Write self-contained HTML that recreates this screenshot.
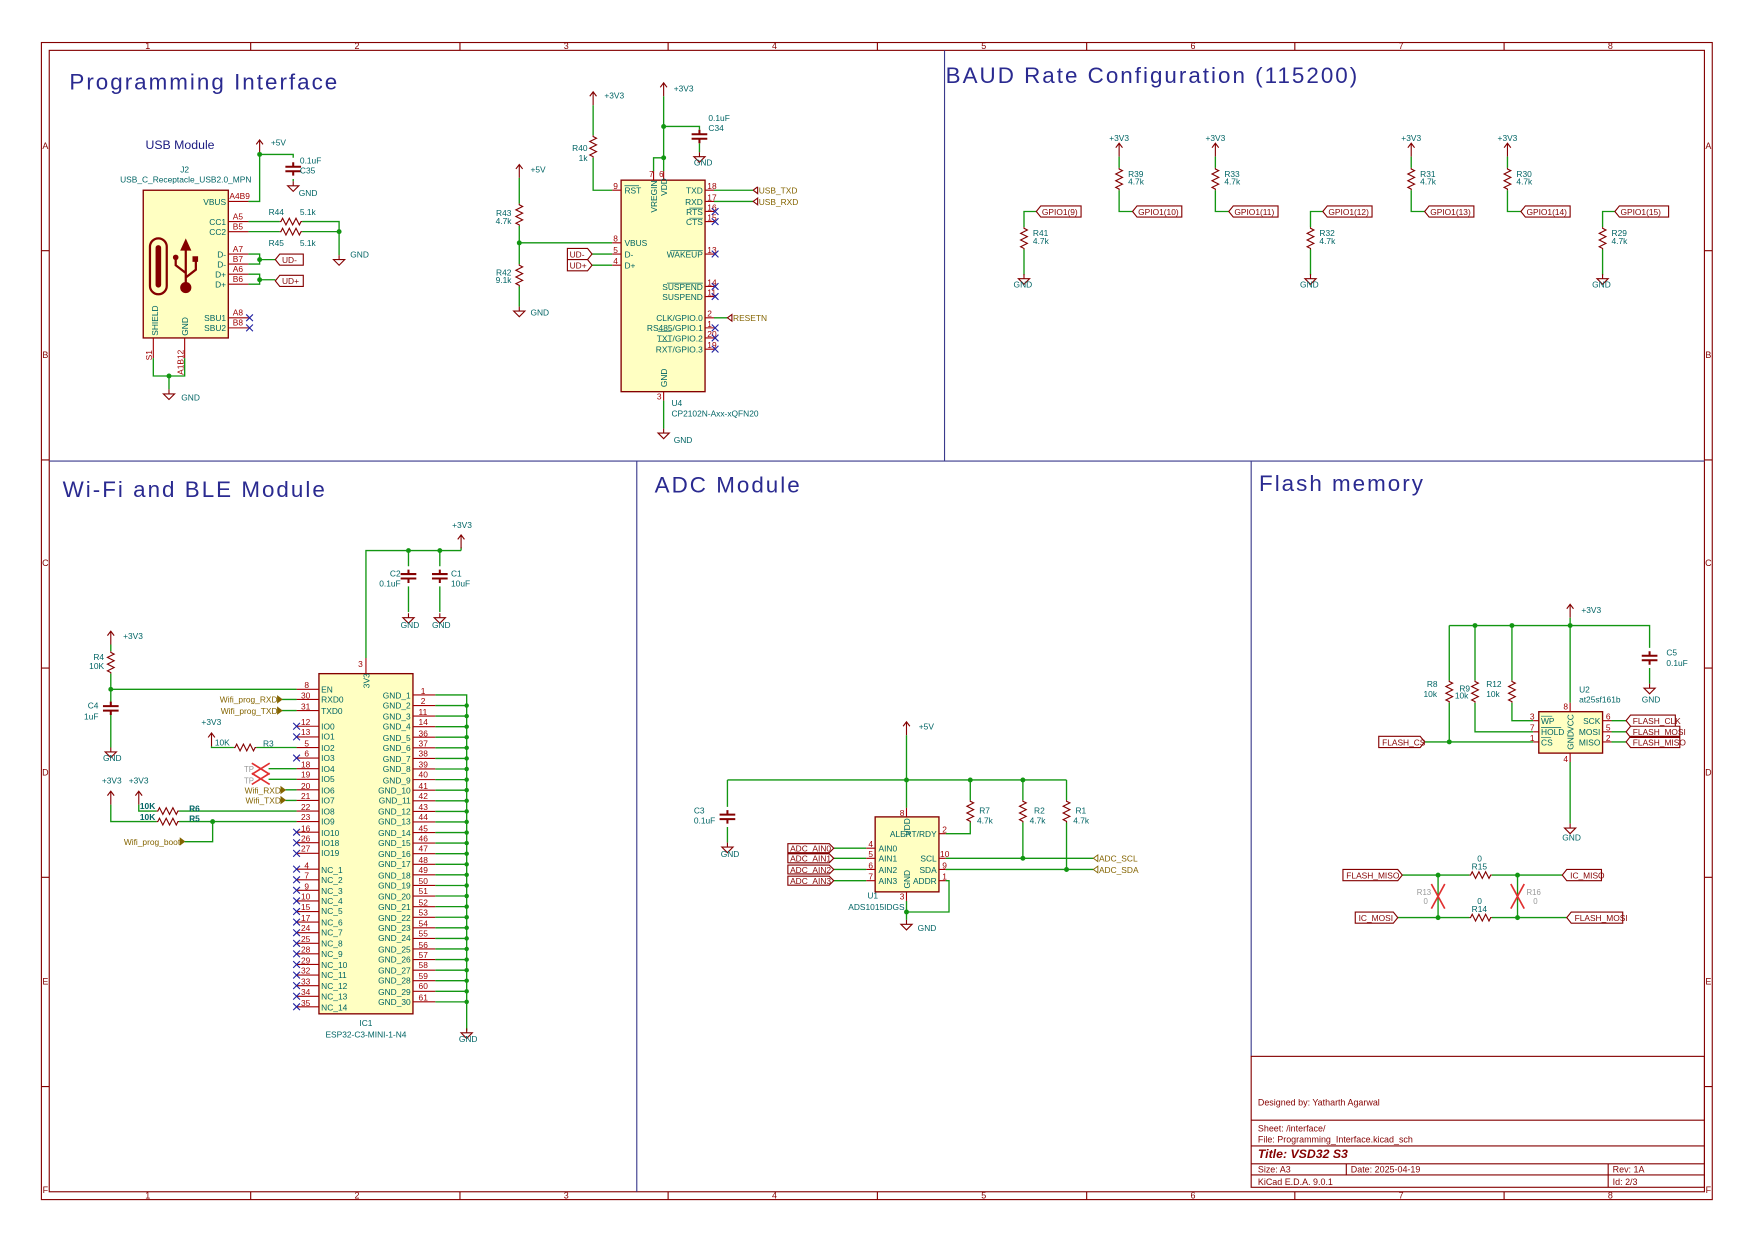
<!DOCTYPE html>
<html><head><meta charset="utf-8"><style>
html,body{margin:0;padding:0;background:#fff;width:1754px;height:1241px;overflow:hidden}
svg{display:block}
.w{stroke:#129612;stroke-width:1.2;fill:none}
.p{stroke:#a00000;stroke-width:1;fill:none}
.r{stroke:#840000;stroke-width:1;fill:none}
.b{fill:#ffffc2;stroke:#840000;stroke-width:1.2}
.bd{stroke:#840000;stroke-width:1;fill:none}
.dv{stroke:#3a3a8c;stroke-width:1;fill:none}
text{font-family:"Liberation Sans",sans-serif}
.t{fill:#006464;font-size:7.5px}
.n{fill:#a00000;font-size:7.5px}
.l{fill:#840000;font-size:7.5px}
.h{fill:#846400;font-size:7.5px}
.hd{fill:#2a2a90;font-size:20px;letter-spacing:1.8px}
.bt{fill:#840000;font-size:8px}
.x{stroke:#2020a0;stroke-width:1}
</style></head><body>
<svg width="1754" height="1241" viewBox="0 0 1567.3 1109" preserveAspectRatio="none" xmlns="http://www.w3.org/2000/svg">
<defs>
<path id="rv" d="M0,-10 v1 l3,1.5 l-6,3 l6,3 l-6,3 l6,3 l-6,3 l3,1.5 v1" class="r"/>
<path id="rh" d="M-10,0 h1 l1.5,-3 l3,6 l3,-6 l3,6 l3,-6 l3,6 l1.5,-3 h1" class="r"/>
<path id="gnd" d="M0,0 v4 M-5,4 h10 l-5,5 z" class="r"/>
<path id="pw" d="M0,12 v-12 M-3,4 l3,-4 l3,4" class="r"/>
<path id="cv" d="M0,-6 v4 M-7,-2 h14 M-7,2 h14 M0,2 v4" style="stroke:#840000;stroke-width:1.8;fill:none"/>
<circle id="j" r="2.2" fill="#129612"/>
<path id="nc" d="M-3,-3 l6,6 M-3,3 l6,-6" class="x"/>
</defs>

<!-- border -->
<rect x="37" y="38" width="1493" height="1034" class="bd"/>
<rect x="44" y="45" width="1479" height="1020" class="bd"/>
<g class="bd">
<path d="M224,38v7M411,38v7M597,38v7M784,38v7M971,38v7M1157,38v7M1344,38v7"/>
<path d="M224,1065v7M411,1065v7M597,1065v7M784,1065v7M971,1065v7M1157,1065v7M1344,1065v7"/>
<path d="M37,224h7M37,411h7M37,597h7M37,784h7M37,971h7M1523,224h7M1523,411h7M1523,597h7M1523,784h7M1523,971h7"/>
</g>
<g class="bt" font-size="7" text-anchor="middle">
<text x="132" y="44">1</text><text x="319" y="44">2</text><text x="506" y="44">3</text><text x="692" y="44">4</text><text x="879" y="44">5</text><text x="1066" y="44">6</text><text x="1252" y="44">7</text><text x="1439" y="44">8</text>
<text x="132" y="1071">1</text><text x="319" y="1071">2</text><text x="506" y="1071">3</text><text x="692" y="1071">4</text><text x="879" y="1071">5</text><text x="1066" y="1071">6</text><text x="1252" y="1071">7</text><text x="1439" y="1071">8</text>
<text x="40.5" y="133">A</text><text x="40.5" y="320">B</text><text x="40.5" y="506">C</text><text x="40.5" y="693">D</text><text x="40.5" y="880">E</text><text x="40.5" y="1066">F</text>
<text x="1526.5" y="133">A</text><text x="1526.5" y="320">B</text><text x="1526.5" y="506">C</text><text x="1526.5" y="693">D</text><text x="1526.5" y="880">E</text><text x="1526.5" y="1066">F</text>
</g>

<!-- dividers -->
<path class="dv" d="M44,412H1523M844,45V412M569,412V1065M1118,412V944"/>

<!-- title block -->
<g class="bd">
<rect x="1118" y="944" width="405" height="117"/>
<path d="M1118,1001H1523M1118,1024H1523M1118,1040H1523M1118,1050H1523M1203,1040V1050M1437,1040V1061"/>
</g>
<g class="bt">
<text x="1124" y="988">Designed by: Yatharth Agarwal</text>
<text x="1124" y="1011">Sheet: /interface/</text>
<text x="1124" y="1021">File: Programming_Interface.kicad_sch</text>
<text x="1124" y="1035" font-size="11" font-weight="bold" font-style="italic">Title: VSD32 S3</text>
<text x="1124" y="1048">Size: A3</text><text x="1207" y="1048">Date: 2025-04-19</text><text x="1441" y="1048">Rev: 1A</text>
<text x="1124" y="1059">KiCad E.D.A. 9.0.1</text><text x="1441" y="1059">Id: 2/3</text>
</g>

<!-- headings -->
<text class="hd" x="62" y="80">Programming Interface</text>
<text class="hd" x="845" y="74">BAUD Rate Configuration (115200)</text>
<text class="hd" x="56" y="444">Wi-Fi and BLE Module</text>
<text class="hd" x="585" y="440">ADC Module</text>
<text class="hd" x="1125" y="439">Flash memory</text>

<!-- ================= USB ================= -->
<text x="130" y="133" fill="#1a1a80" font-size="11">USB Module</text>
<text class="t" x="165" y="154" text-anchor="middle">J2</text>
<text class="t" x="166" y="163" text-anchor="middle">USB_C_Receptacle_USB2.0_MPN</text>
<rect class="b" x="128" y="170" width="76" height="132"/>
<rect x="134" y="213" width="15" height="50" rx="7.5" fill="none" stroke="#840000" stroke-width="2"/>
<rect x="139" y="219" width="5" height="38" rx="2.5" fill="#840000"/>
<path d="M166,222v32M166,244l-9,-7v-6M166,248l9,-7v-8" stroke="#840000" stroke-width="2" fill="none"/>
<path d="M161,224l5,-11l5,11z" fill="#840000"/><circle cx="166" cy="257" r="5" fill="#840000"/><circle cx="157" cy="230" r="2.5" fill="#840000"/><rect x="172" y="229" width="5" height="5" fill="#840000"/>
<g class="p"><path d="M204,180h18M204,198h18M204,207h18M204,227h18M204,236h18M204,245h18M204,254h18M204,284h18M204,293h18M137,302v18M165,302v18"/></g>
<g class="t" text-anchor="end">
<text x="202" y="183">VBUS</text><text x="202" y="201">CC1</text><text x="202" y="210">CC2</text><text x="202" y="230">D-</text><text x="202" y="239">D-</text><text x="202" y="248">D+</text><text x="202" y="257">D+</text><text x="202" y="287">SBU1</text><text x="202" y="296">SBU2</text>
</g>
<text class="t" transform="translate(141,300) rotate(-90)">SHIELD</text>
<text class="t" transform="translate(168,300) rotate(-90)">GND</text>
<g class="n"><text x="205" y="178">A4B9</text><text x="208" y="196">A5</text><text x="208" y="205">B5</text><text x="208" y="225">A7</text><text x="208" y="234">B7</text><text x="208" y="243">A6</text><text x="208" y="252">B6</text><text x="208" y="282">A8</text><text x="208" y="291">B8</text></g>
<text class="n" transform="translate(136,322) rotate(-90)">S1</text>
<text class="n" transform="translate(164,335) rotate(-90)">A1B12</text>
<use href="#nc" x="223" y="284"/><use href="#nc" x="223" y="293"/>
<path class="w" d="M222,180h10v-42M232,138h30v3M262,160v2M222,198h28M270,198h33v30M222,207h28M270,207h33M222,227h10v9h-10M232,232h14M222,245h10v9h-10M232,250h14M137,320v16h28v-16M151,336v12"/>
<use href="#pw" x="232" y="125"/><text class="t" x="242" y="130">+5V</text>
<use href="#j" x="232" y="138"/>
<use href="#cv" x="262" y="151"/><use href="#gnd" x="262" y="162"/>
<text class="t" x="268" y="146">0.1uF</text><text class="t" x="268" y="155">C35</text><text class="t" x="267" y="175">GND</text>
<use href="#rh" x="260" y="198"/><use href="#rh" x="260" y="207"/>
<text class="t" x="240" y="192">R44</text><text class="t" x="268" y="192">5.1k</text>
<text class="t" x="240" y="220">R45</text><text class="t" x="268" y="220">5.1k</text>
<use href="#j" x="303" y="207"/><use href="#gnd" x="303" y="228"/><text class="t" x="313" y="230">GND</text>
<use href="#j" x="232" y="232"/><use href="#j" x="232" y="250"/>
<path class="r" d="M246,232l4,-5h21v10h-21z M246,251l4,-5h21v10h-21z"/>
<text class="l" x="252" y="235">UD-</text><text class="l" x="252" y="254">UD+</text>
<use href="#j" x="151" y="336"/><use href="#gnd" x="151" y="348"/><text class="t" x="162" y="358">GND</text>

<!-- ================= CP2102 ================= -->
<rect class="b" x="555" y="161" width="75" height="189"/>
<use href="#pw" x="530" y="82"/><text class="t" x="540" y="88">+3V3</text>
<path class="w" d="M530,94v27M530,141v29h17"/>
<use href="#rv" x="530" y="131"/><text class="t" x="525" y="135" text-anchor="end">R40</text><text class="t" x="525" y="144" text-anchor="end">1k</text>
<use href="#pw" x="593" y="74"/><text class="t" x="602" y="82">+3V3</text>
<path class="w" d="M593,86v67M593,113h32v3M625,128v8M593,141h-9v12"/>
<use href="#j" x="593" y="113"/><use href="#j" x="593" y="141"/>
<use href="#cv" x="625" y="122"/><use href="#gnd" x="625" y="136"/>
<text class="t" x="633" y="108">0.1uF</text><text class="t" x="633" y="117">C34</text><text class="t" x="620" y="148">GND</text>
<path class="p" d="M584,153v8M593,153v8M547,170h8M547,217h8M547,227h8M547,237h8M630,170h8M630,180h8M630,189h8M630,198h8M630,227h8M630,256h8M630,265h8M630,284h8M630,293h8M630,302h8M630,312h8M593,350v8"/>
<g class="n"><text x="580" y="158" font-size="7">7</text><text x="589" y="158" font-size="7">6</text><text x="548" y="169">9</text><text x="548" y="216">8</text><text x="548" y="226">5</text><text x="548" y="236">4</text>
<text x="632" y="169">18</text><text x="632" y="179">17</text><text x="632" y="188">16</text><text x="632" y="197">15</text><text x="632" y="226">13</text><text x="632" y="255">14</text><text x="632" y="264">11</text><text x="632" y="283">2</text><text x="632" y="292">1</text><text x="632" y="301">20</text><text x="632" y="311">19</text><text x="587" y="357">3</text></g>
<g class="t"><text x="558" y="173">RST</text><text x="558" y="220">VBUS</text><text x="558" y="230">D-</text><text x="558" y="240">D+</text></g>
<g class="t" text-anchor="end"><text x="628" y="173">TXD</text><text x="628" y="183">RXD</text><text x="628" y="192">RTS</text><text x="628" y="201">CTS</text><text x="628" y="230">WAKEUP</text><text x="628" y="259">SUSPEND</text><text x="628" y="268">SUSPEND</text><text x="628" y="287">CLK/GPIO.0</text><text x="628" y="296">RS485/GPIO.1</text><text x="628" y="305">TXT/GPIO.2</text><text x="628" y="315">RXT/GPIO.3</text></g>
<path d="M558,166h13M616,186h12M616,195h12M599,224h29M596,253h32M588,296h12M588,305h12" stroke="#006464" stroke-width="0.6"/>
<text class="t" transform="translate(587,190) rotate(-90)">VREGIN</text>
<text class="t" transform="translate(596,175) rotate(-90)">VDD</text>
<text class="t" transform="translate(596,346) rotate(-90)">GND</text>
<g><use href="#nc" x="639" y="189"/><use href="#nc" x="639" y="198"/><use href="#nc" x="639" y="227"/><use href="#nc" x="639" y="256"/><use href="#nc" x="639" y="265"/><use href="#nc" x="639" y="293"/><use href="#nc" x="639" y="302"/><use href="#nc" x="639" y="312"/></g>
<path class="w" d="M638,170h35M638,180h35M638,284h12M593,358v25"/>
<path class="r" d="M673,170l4,-3h0M677,167v6l-4,-3M673,180l4,-3v6z M650,284l4,-3v6z"/>
<text class="h" x="678" y="173">USB_TXD</text><text class="h" x="678" y="183">USB_RXD</text><text class="h" x="655" y="287">RESETN</text>
<text class="t" x="600" y="363">U4</text><text class="t" x="600" y="372">CP2102N-Axx-xQFN20</text>
<use href="#gnd" x="593" y="383"/><text class="t" x="602" y="396">GND</text>
<use href="#pw" x="464" y="147"/><text class="t" x="474" y="154">+5V</text>
<path class="w" d="M464,159v23M464,202v34M464,217h83M464,256v18"/>
<use href="#rv" x="464" y="192"/><use href="#rv" x="464" y="246"/>
<text class="t" x="457" y="193" text-anchor="end">R43</text><text class="t" x="457" y="200" text-anchor="end">4.7k</text>
<text class="t" x="457" y="246" text-anchor="end">R42</text><text class="t" x="457" y="253" text-anchor="end">9.1k</text>
<use href="#j" x="464" y="217"/><use href="#gnd" x="464" y="274"/><text class="t" x="474" y="282">GND</text>
<path class="w" d="M529,227h18M529,237h18"/>
<path class="r" d="M507,222h18l4,5l-4,5h-18z M507,232h18l4,5l-4,5h-18z"/>
<text class="l" x="509" y="230">UD-</text><text class="l" x="509" y="240">UD+</text>

<!-- ================= BAUD ================= -->
<g>
<use href="#pw" x="1000" y="128"/><use href="#pw" x="1086" y="128"/><use href="#pw" x="1261" y="128"/><use href="#pw" x="1347" y="128"/>
<g class="t" font-size="7" text-anchor="middle"><text x="1000" y="126">+3V3</text><text x="1086" y="126">+3V3</text><text x="1261" y="126">+3V3</text><text x="1347" y="126">+3V3</text></g>
<path class="w" d="M1000,140v10M1000,170v19h12M1086,140v10M1086,170v19h12M1261,140v10M1261,170v19h12M1347,140v10M1347,170v19h12"/>
<use href="#rv" x="1000" y="160"/><use href="#rv" x="1086" y="160"/><use href="#rv" x="1261" y="160"/><use href="#rv" x="1347" y="160"/>
<g class="t" font-size="7"><text x="1008" y="158">R39</text><text x="1008" y="165">4.7k</text><text x="1094" y="158">R33</text><text x="1094" y="165">4.7k</text><text x="1269" y="158">R31</text><text x="1269" y="165">4.7k</text><text x="1355" y="158">R30</text><text x="1355" y="165">4.7k</text></g>
<path class="w" d="M926,189h-11v14M915,223v23M1182,189h-11v14M1171,223v23M1443,189h-11v14M1432,223v23"/>
<use href="#rv" x="915" y="213"/><use href="#rv" x="1171" y="213"/><use href="#rv" x="1432" y="213"/>
<g class="t" font-size="7"><text x="923" y="211">R41</text><text x="923" y="218">4.7k</text><text x="1179" y="211">R32</text><text x="1179" y="218">4.7k</text><text x="1440" y="211">R29</text><text x="1440" y="218">4.7k</text></g>
<use href="#gnd" x="915" y="245"/><use href="#gnd" x="1171" y="245"/><use href="#gnd" x="1432" y="245"/>
<g class="t" font-size="7" text-anchor="middle"><text x="914" y="257">GND</text><text x="1170" y="257">GND</text><text x="1431" y="257">GND</text></g>
<g class="r"><path d="M926,189l4,-5h36v10h-36z M1012,189l4,-5h40v10h-40z M1098,189l4,-5h40v10h-40z M1182,189l4,-5h40v10h-40z M1273,189l4,-5h40v10h-40z M1359,189l4,-5h40v10h-40z M1443,189l4,-5h44v10h-44z"/></g>
<g class="l" font-size="7"><text x="931" y="192">GPIO1(9)</text><text x="1017" y="192">GPIO1(10)</text><text x="1103" y="192">GPIO1(11)</text><text x="1187" y="192">GPIO1(12)</text><text x="1278" y="192">GPIO1(13)</text><text x="1364" y="192">GPIO1(14)</text><text x="1448" y="192">GPIO1(15)</text></g>
</g>

<!-- ================= ESP32 ================= -->
<rect class="b" x="285" y="602" width="84" height="304"/>
<text class="t" transform="translate(330,615) rotate(-90)">3V3</text>
<path class="p" d="M327,602v-14"/><text class="n" x="320" y="596">3</text>
<path class="w" d="M327,588v-96h85M412,492v-3M365,492v14M365,524v23M393,492v14M393,524v23"/>
<use href="#pw" x="412" y="478"/><text class="t" x="404" y="472">+3V3</text>
<use href="#j" x="365" y="492"/><use href="#j" x="393" y="492"/>
<use href="#cv" x="365" y="515"/><use href="#cv" x="393" y="515"/>
<use href="#gnd" x="365" y="548"/><use href="#gnd" x="393" y="548"/>
<text class="t" x="358" y="515" text-anchor="end">C2</text><text class="t" x="358" y="524" text-anchor="end">0.1uF</text>
<text class="t" x="403" y="515">C1</text><text class="t" x="403" y="524">10uF</text>
<text class="t" x="358" y="561">GND</text><text class="t" x="386" y="561">GND</text>
<g class="p"><path d="M265,616h20M265,625h20M265,635h20M265,649h20M265,658.5h20M265,668h20M265,677.4h20M265,686.9h20M265,696.4h20M265,705.8h20M265,715.3h20M265,724.8h20M265,734.2h20M265,743.7h20M265,753.1h20M265,762.6h20M265,776.7h20M265,786.2h20M265,795.6h20M265,805.1h20M265,814.6h20M265,824h20M265,833.5h20M265,843h20M265,852.4h20M265,861.9h20M265,871.4h20M265,880.8h20M265,890.3h20M265,899.7h20"/></g>
<g class="n" font-size="7.5"><text x="272" y="615">8</text><text x="269" y="624">30</text><text x="269" y="634">31</text><text x="269" y="648">12</text><text x="269" y="657">13</text><text x="272" y="667">5</text><text x="272" y="676">6</text><text x="269" y="686">18</text><text x="269" y="695">19</text><text x="269" y="705">20</text><text x="269" y="714">21</text><text x="269" y="724">22</text><text x="269" y="733">23</text><text x="269" y="743">16</text><text x="269" y="752">26</text><text x="269" y="761">27</text>
<text x="272" y="776">4</text><text x="272" y="785">7</text><text x="272" y="795">9</text><text x="269" y="804">10</text><text x="269" y="813">15</text><text x="269" y="823">17</text><text x="269" y="832">24</text><text x="269" y="842">25</text><text x="269" y="851">28</text><text x="269" y="861">29</text><text x="269" y="870">32</text><text x="269" y="880">33</text><text x="269" y="889">34</text><text x="269" y="899">35</text></g>
<g class="t"><text x="287" y="619">EN</text><text x="287" y="628">RXD0</text><text x="287" y="638">TXD0</text><text x="287" y="652">IO0</text><text x="287" y="661">IO1</text><text x="287" y="671">IO2</text><text x="287" y="680">IO3</text><text x="287" y="690">IO4</text><text x="287" y="699">IO5</text><text x="287" y="709">IO6</text><text x="287" y="718">IO7</text><text x="287" y="728">IO8</text><text x="287" y="737">IO9</text><text x="287" y="747">IO10</text><text x="287" y="756">IO18</text><text x="287" y="765">IO19</text>
<text x="287" y="780">NC_1</text><text x="287" y="789">NC_2</text><text x="287" y="799">NC_3</text><text x="287" y="808">NC_4</text><text x="287" y="817">NC_5</text><text x="287" y="827">NC_6</text><text x="287" y="836">NC_7</text><text x="287" y="846">NC_8</text><text x="287" y="855">NC_9</text><text x="287" y="865">NC_10</text><text x="287" y="874">NC_11</text><text x="287" y="884">NC_12</text><text x="287" y="893">NC_13</text><text x="287" y="903">NC_14</text></g>
<g><use href="#nc" x="265" y="649"/><use href="#nc" x="265" y="658.5"/><use href="#nc" x="265" y="677.4"/><use href="#nc" x="265" y="743.7"/><use href="#nc" x="265" y="753.1"/><use href="#nc" x="265" y="762.6"/><use href="#nc" x="265" y="776.7"/><use href="#nc" x="265" y="786.2"/><use href="#nc" x="265" y="795.6"/><use href="#nc" x="265" y="805.1"/><use href="#nc" x="265" y="814.6"/><use href="#nc" x="265" y="824"/><use href="#nc" x="265" y="833.5"/><use href="#nc" x="265" y="843"/><use href="#nc" x="265" y="852.4"/><use href="#nc" x="265" y="861.9"/><use href="#nc" x="265" y="871.4"/><use href="#nc" x="265" y="880.8"/><use href="#nc" x="265" y="890.3"/><use href="#nc" x="265" y="899.7"/></g>
<g class="p"><path d="M369,621h20M369,630.5h20M369,639.9h20M369,649.4h20M369,658.8h20M369,668.3h20M369,677.8h20M369,687.2h20M369,696.7h20M369,706.1h20M369,715.6h20M369,725.1h20M369,734.5h20M369,744h20M369,753.4h20M369,762.9h20M369,772.4h20M369,781.8h20M369,791.3h20M369,800.7h20M369,810.2h20M369,819.7h20M369,829.1h20M369,838.6h20M369,848h20M369,857.5h20M369,867h20M369,876.4h20M369,885.9h20M369,895.3h20"/></g>
<path class="w" d="M389,621h28v300M389,630.5h28M389,639.9h28M389,649.4h28M389,658.8h28M389,668.3h28M389,677.8h28M389,687.2h28M389,696.7h28M389,706.1h28M389,715.6h28M389,725.1h28M389,734.5h28M389,744h28M389,753.4h28M389,762.9h28M389,772.4h28M389,781.8h28M389,791.3h28M389,800.7h28M389,810.2h28M389,819.7h28M389,829.1h28M389,838.6h28M389,848h28M389,857.5h28M389,867h28M389,876.4h28M389,885.9h28M389,895.3h28"/>
<g fill="#129612"><circle cx="417" cy="630.5" r="2"/><circle cx="417" cy="639.9" r="2"/><circle cx="417" cy="649.4" r="2"/><circle cx="417" cy="658.8" r="2"/><circle cx="417" cy="668.3" r="2"/><circle cx="417" cy="677.8" r="2"/><circle cx="417" cy="687.2" r="2"/><circle cx="417" cy="696.7" r="2"/><circle cx="417" cy="706.1" r="2"/><circle cx="417" cy="715.6" r="2"/><circle cx="417" cy="725.1" r="2"/><circle cx="417" cy="734.5" r="2"/><circle cx="417" cy="744" r="2"/><circle cx="417" cy="753.4" r="2"/><circle cx="417" cy="762.9" r="2"/><circle cx="417" cy="772.4" r="2"/><circle cx="417" cy="781.8" r="2"/><circle cx="417" cy="791.3" r="2"/><circle cx="417" cy="800.7" r="2"/><circle cx="417" cy="810.2" r="2"/><circle cx="417" cy="819.7" r="2"/><circle cx="417" cy="829.1" r="2"/><circle cx="417" cy="838.6" r="2"/><circle cx="417" cy="848" r="2"/><circle cx="417" cy="857.5" r="2"/><circle cx="417" cy="867" r="2"/><circle cx="417" cy="876.4" r="2"/><circle cx="417" cy="885.9" r="2"/><circle cx="417" cy="895.3" r="2"/></g>
<g class="n"><text x="376" y="620">1</text><text x="376" y="629">2</text><text x="374" y="639">11</text><text x="374" y="648">14</text><text x="374" y="658">36</text><text x="374" y="667">37</text><text x="374" y="676">38</text><text x="374" y="686">39</text><text x="374" y="695">40</text><text x="374" y="705">41</text><text x="374" y="714">42</text><text x="374" y="724">43</text><text x="374" y="733">44</text><text x="374" y="743">45</text><text x="374" y="752">46</text><text x="374" y="761">47</text><text x="374" y="771">48</text><text x="374" y="780">49</text><text x="374" y="790">50</text><text x="374" y="799">51</text><text x="374" y="809">52</text><text x="374" y="818">53</text><text x="374" y="828">54</text><text x="374" y="837">55</text><text x="374" y="847">56</text><text x="374" y="856">57</text><text x="374" y="865">58</text><text x="374" y="875">59</text><text x="374" y="884">60</text><text x="374" y="894">61</text></g>
<g class="t" text-anchor="end"><text x="367" y="624">GND_1</text><text x="367" y="633">GND_2</text><text x="367" y="643">GND_3</text><text x="367" y="652">GND_4</text><text x="367" y="662">GND_5</text><text x="367" y="671">GND_6</text><text x="367" y="681">GND_7</text><text x="367" y="690">GND_8</text><text x="367" y="700">GND_9</text><text x="367" y="709">GND_10</text><text x="367" y="718">GND_11</text><text x="367" y="728">GND_12</text><text x="367" y="737">GND_13</text><text x="367" y="747">GND_14</text><text x="367" y="756">GND_15</text><text x="367" y="766">GND_16</text><text x="367" y="775">GND_17</text><text x="367" y="785">GND_18</text><text x="367" y="794">GND_19</text><text x="367" y="804">GND_20</text><text x="367" y="813">GND_21</text><text x="367" y="823">GND_22</text><text x="367" y="832">GND_23</text><text x="367" y="841">GND_24</text><text x="367" y="851">GND_25</text><text x="367" y="860">GND_26</text><text x="367" y="870">GND_27</text><text x="367" y="879">GND_28</text><text x="367" y="889">GND_29</text><text x="367" y="898">GND_30</text></g>
<use href="#gnd" x="417" y="919"/><text class="t" x="410" y="931">GND</text>
<text class="t" x="327" y="917" text-anchor="middle">IC1</text><text class="t" x="327" y="927" text-anchor="middle">ESP32-C3-MINI-1-N4</text>
<use href="#pw" x="99" y="564"/><text class="t" x="110" y="571">+3V3</text>
<path class="w" d="M99,576v6M99,602v26M99,616h166M99,638v30"/>
<use href="#rv" x="99" y="592"/><text class="t" x="93" y="590" text-anchor="end">R4</text><text class="t" x="93" y="598" text-anchor="end">10K</text>
<use href="#j" x="99" y="616"/><use href="#cv" x="99" y="633"/><text class="t" x="88" y="633" text-anchor="end">C4</text><text class="t" x="88" y="643" text-anchor="end">1uF</text>
<use href="#gnd" x="99" y="668"/><text class="t" x="92" y="680">GND</text>
<path class="w" d="M252,625h13M252,635h13M240,686.9h25M240,696.4h25M255,705.8h10M255,715.3h10"/>
<path class="h" fill="none" stroke="#846400" stroke-width="0.8" d="M248,622l4,3l-4,3z M248,632l4,3l-4,3z M251,703l4,3l-4,3z M251,712l4,3l-4,3z M161,749l4,3l-4,3z"/>
<g class="h" font-size="7" text-anchor="end"><text x="248" y="628">Wifi_prog_RXD</text><text x="248" y="638">Wifi_prog_TXD</text><text x="251" y="709">Wifi_RXD</text><text x="251" y="718">Wifi_TXD</text><text x="161" y="755">Wifi_prog_boot</text></g>
<use href="#pw" x="189" y="655"/><text class="t" x="180" y="648">+3V3</text>
<path class="w" d="M189,667v1h20M229,668h36"/>
<use href="#rh" x="219" y="668"/><text class="t" x="192" y="666">10K</text><text class="t" x="235" y="667">R3</text>
<text x="218" y="690" fill="#999" font-size="7">TP</text><text x="218" y="700" fill="#999" font-size="7">TP</text>
<path d="M225,682l16,10M225,692l16,-10M225,691l16,10M225,701l16,-10" stroke="#e03030" stroke-width="1.5"/>
<text class="t" x="91" y="700">+3V3</text><text class="t" x="115" y="700">+3V3</text>
<use href="#pw" x="99" y="707"/><use href="#pw" x="124" y="707"/>
<path class="w" d="M124,719v5.8h16M160,724.8h105M99,719v15.2h41M160,734.2h105M190,734.2v18h-25"/>
<use href="#rh" x="150" y="724.8"/><use href="#rh" x="150" y="734.2"/>
<use href="#j" x="190" y="734.2"/>
<text class="t" x="125" y="723" font-weight="bold">10K</text><text class="t" x="125" y="733" font-weight="bold">10K</text>
<text class="t" x="169" y="725" font-weight="bold">R6</text><text class="t" x="169" y="734" font-weight="bold">R5</text>

<!-- ================= ADC ================= -->
<use href="#pw" x="810" y="645"/><text class="t" x="821" y="652">+5V</text>
<path class="w" d="M810,657v65M650,697h303M650,697v24M650,739v14M867,697v18M867,735v10h-22M914,697v18M914,735v32M953,697v18M953,735v42M845,767h132M845,777h132M845,787h3v28h-38M810,805v17"/>
<use href="#j" x="810" y="697"/><use href="#j" x="867" y="697"/><use href="#j" x="914" y="697"/><use href="#j" x="914" y="767"/><use href="#j" x="953" y="777"/><use href="#j" x="810" y="815"/>
<use href="#cv" x="650" y="730"/><use href="#gnd" x="650" y="753"/><text class="t" x="620" y="727">C3</text><text class="t" x="620" y="736">0.1uF</text><text class="t" x="644" y="766">GND</text>
<use href="#rv" x="867" y="725"/><use href="#rv" x="914" y="725"/><use href="#rv" x="953" y="725"/>
<text class="t" x="875" y="727">R7</text><text class="t" x="873" y="736">4.7k</text><text class="t" x="924" y="727">R2</text><text class="t" x="920" y="736">4.7k</text><text class="t" x="961" y="727">R1</text><text class="t" x="959" y="736">4.7k</text>
<rect class="b" x="782" y="730" width="57" height="67"/>
<path class="p" d="M810,722v8M774,758h8M774,767h8M774,777h8M774,787h8M839,745h6M839,767h6M839,777h6M839,787h6M810,797v8"/>
<g class="n"><text x="804" y="729">8</text><text x="776" y="757">4</text><text x="776" y="766">5</text><text x="776" y="776">6</text><text x="776" y="786">7</text><text x="842" y="744">2</text><text x="840" y="766">10</text><text x="842" y="776">9</text><text x="842" y="786">1</text><text x="804" y="804">3</text></g>
<text class="t" transform="translate(813,747) rotate(-90)">VDD</text>
<text class="t" transform="translate(813,794) rotate(-90)">GND</text>
<g class="t"><text x="785" y="761">AIN0</text><text x="785" y="770">AIN1</text><text x="785" y="780">AIN2</text><text x="785" y="790">AIN3</text></g>
<g class="t" text-anchor="end"><text x="837" y="748">ALERT/RDY</text><text x="837" y="770">SCL</text><text x="837" y="780">SDA</text><text x="837" y="790">ADDR</text></g>
<path class="w" d="M745,758h29M745,767h29M745,777h29M745,787h29"/>
<path class="r" d="M704,754h37l4,4l-4,4h-37z M704,763h37l4,4l-4,4h-37z M704,773h37l4,4l-4,4h-37z M704,783h37l4,4l-4,4h-37z"/>
<g class="l" font-size="7"><text x="706" y="761">ADC_AIN0</text><text x="706" y="770">ADC_AIN1</text><text x="706" y="780">ADC_AIN2</text><text x="706" y="790">ADC_AIN3</text></g>
<path d="M977,767l4,-3v6z M977,777l4,-3v6z" fill="none" stroke="#846400" stroke-width="0.8"/>
<text class="h" x="982" y="770">ADC_SCL</text><text class="h" x="982" y="780">ADC_SDA</text>
<text class="t" x="775" y="803">U1</text><text class="t" x="758" y="813">ADS1015IDGS</text>
<use href="#gnd" x="810" y="822"/><text class="t" x="820" y="832">GND</text>

<!-- ================= FLASH ================= -->
<use href="#pw" x="1403" y="540"/><text class="t" x="1413" y="548">+3V3</text>
<path class="w" d="M1403,552v76M1295,559h179v20M1474,597v14M1295,559v49M1295,628v35M1318,559v49M1318,628v26h52M1351,559v49M1351,628v16h19M1273,663h97M1403,681v55M1440,644h13M1440,654h13M1440,663h13"/>
<use href="#j" x="1318" y="559"/><use href="#j" x="1351" y="559"/><use href="#j" x="1403" y="559"/><use href="#j" x="1295" y="663"/>
<use href="#cv" x="1474" y="588"/><use href="#gnd" x="1474" y="611"/><text class="t" x="1489" y="586">C5</text><text class="t" x="1489" y="595">0.1uF</text><text class="t" x="1467" y="628">GND</text>
<use href="#rv" x="1295" y="618"/><use href="#rv" x="1318" y="618"/><use href="#rv" x="1351" y="618"/>
<text class="t" x="1275" y="614">R8</text><text class="t" x="1272" y="623">10k</text><text class="t" x="1304" y="618">R9</text><text class="t" x="1300" y="624">10k</text><text class="t" x="1328" y="614">R12</text><text class="t" x="1328" y="623">10k</text>
<text class="t" x="1411" y="619">U2</text><text class="t" x="1411" y="628">at25sf161b</text>
<rect class="b" x="1375" y="636" width="57" height="37"/>
<path class="p" d="M1403,628v8M1370,644h5M1370,654h5M1370,663h5M1432,644h8M1432,654h8M1432,663h8M1403,673v8"/>
<g class="n"><text x="1367" y="643">3</text><text x="1367" y="653">7</text><text x="1367" y="662">1</text><text x="1435" y="643">6</text><text x="1435" y="653">5</text><text x="1435" y="662">2</text><text x="1397" y="634">8</text><text x="1397" y="681">4</text></g>
<g class="t"><text x="1377" y="647">WP</text><text x="1377" y="657">HOLD</text><text x="1377" y="666">CS</text></g>
<path d="M1377,640h10M1377,650h18M1377,659h9" stroke="#006464" stroke-width="0.6"/>
<g class="t" text-anchor="end"><text x="1430" y="647">SCK</text><text x="1430" y="657">MOSI</text><text x="1430" y="666">MISO</text></g>
<text class="t" transform="translate(1406,654) rotate(-90)">VCC</text>
<text class="t" transform="translate(1406,670) rotate(-90)">GND</text>
<use href="#gnd" x="1403" y="736"/><text class="t" x="1396" y="751">GND</text>
<path class="r" d="M1232,658h37l4,5l-4,5h-37z M1453,644l4,-5h40v10h-40z M1453,654l4,-5h44v10h-44z M1453,663l4,-5h44v10h-44z"/>
<g class="l" font-size="7"><text x="1235" y="666">FLASH_CS</text><text x="1459" y="647">FLASH_CLK</text><text x="1459" y="657">FLASH_MOSI</text><text x="1459" y="666">FLASH_MISO</text></g>
<path class="w" d="M1253,782h60M1333,782h63M1249,820h64M1333,820h67M1285,782v38M1356,782v38"/>
<use href="#rh" x="1323" y="782"/><use href="#rh" x="1323" y="820"/>
<use href="#j" x="1285" y="782"/><use href="#j" x="1356" y="782"/><use href="#j" x="1285" y="820"/><use href="#j" x="1356" y="820"/>
<path d="M1279,790l12,22M1279,812l12,-22M1350,790l12,22M1350,812l12,-22" stroke="#e03030" stroke-width="1.5"/>
<text x="1266" y="800" fill="#999" font-size="7">R13</text><text x="1272" y="808" fill="#999" font-size="7">0</text>
<text x="1364" y="800" fill="#999" font-size="7">R16</text><text x="1370" y="808" fill="#999" font-size="7">0</text>
<text class="t" x="1320" y="770">0</text><text class="t" x="1315" y="777">R15</text><text class="t" x="1320" y="808">0</text><text class="t" x="1315" y="815">R14</text>
<path class="r" d="M1200,777h49l4,5l-4,5h-49z M1211,815h34l4,5l-4,5h-34z M1396,782l4,-5h31v10h-31z M1400,820l4,-5h46v10h-46z"/>
<g class="l" font-size="7"><text x="1203" y="785">FLASH_MISO</text><text x="1214" y="823">IC_MOSI</text><text x="1403" y="785">IC_MISO</text><text x="1407" y="823">FLASH_MOSI</text></g>
</svg>
</body></html>
